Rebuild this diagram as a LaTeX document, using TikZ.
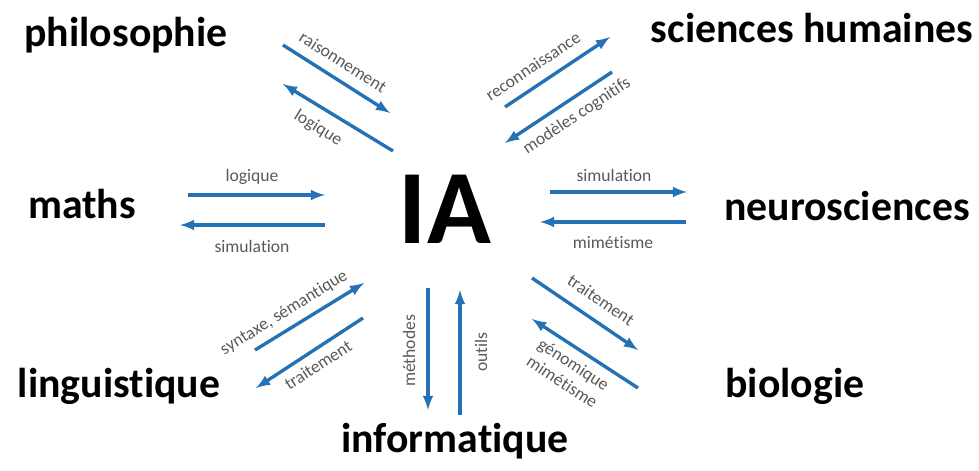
\documentclass[tikz,border=0pt]{standalone}
\usepackage{fontspec}
\setmainfont{Carlito}[Ligatures=NoCommon]
\usetikzlibrary{arrows}
\definecolor{bleu}{RGB}{36,114,181}
\definecolor{gris}{RGB}{89,89,89}

\begin{document}
\begin{tikzpicture}[x=0.025cm,y=-0.025cm]
                      \tikzstyle{domaine}=[font=\bfseries\fontsize{29.7}{32}\selectfont,text=black,inner sep=0pt,anchor=base]
                      \tikzstyle{fleche}=[-latex,draw=bleu,line width=2.4pt]
                      \tikzstyle{lien}=[font=\fontsize{12.5}{15}\selectfont,text=gris,inner sep=0pt]
                      \useasboundingbox (0,0) rectangle (979,470);
                      % centre et domaines
                      \node[font=\bfseries\fontsize{75}{80}\selectfont,inner sep=0pt] (ia) at (445,209) {IA};
                      \node[domaine] (philo) at (126,46) {philosophie};
                      \node[domaine] (sh) at (812,42) {sciences humaines};
                      \node[domaine] (maths) at (82,218) {maths};
                      \node[domaine] (neuro) at (847,220) {neurosciences};
                      \node[domaine] (ling) at (119,397) {linguistique};
                      \node[domaine] (bio) at (795,397) {biologie};
                      \node[domaine] (info) at (455,452) {informatique};
                      % extremites des fleches
                      \coordinate (a1) at (283,45);  \coordinate (a2) at (390,113);
                      \coordinate (b1) at (393,151); \coordinate (b2) at (283,84);
                      \coordinate (c1) at (505,107); \coordinate (c2) at (610,37);
                      \coordinate (d1) at (612,72);  \coordinate (d2) at (505,143);
                      \coordinate (e1) at (188,195); \coordinate (e2) at (325,195);
                      \coordinate (f1) at (325,225); \coordinate (f2) at (180,225);
                      \coordinate (g1) at (550,192); \coordinate (g2) at (687,192);
                      \coordinate (h1) at (686,222); \coordinate (h2) at (540,222);
                      \coordinate (i1) at (255,350); \coordinate (i2) at (364,283);
                      \coordinate (j1) at (363,318); \coordinate (j2) at (256,388);
                      \coordinate (k1) at (428,288); \coordinate (k2) at (428,410);
                      \coordinate (l1) at (460,415); \coordinate (l2) at (460,290);
                      \coordinate (m1) at (532,278); \coordinate (m2) at (638,350);
                      \coordinate (n1) at (638,388); \coordinate (n2) at (532,319);
                      \draw[fleche] (a1) -- (a2);
                      \draw[fleche] (b1) -- (b2);
                      \draw[fleche] (c1) -- (c2);
                      \draw[fleche] (d1) -- (d2);
                      \draw[fleche] (e1) -- (e2);
                      \draw[fleche] (f1) -- (f2);
                      \draw[fleche] (g1) -- (g2);
                      \draw[fleche] (h1) -- (h2);
                      \draw[fleche] (i1) -- (i2);
                      \draw[fleche] (j1) -- (j2);
                      \draw[fleche] (k1) -- (k2);
                      \draw[fleche] (l1) -- (l2);
                      \draw[fleche] (m1) -- (m2);
                      \draw[fleche] (n1) -- (n2);
                      % etiquettes
                      \node[lien,rotate=-32.4] (la) at (343,62) {raisonnement};
                      \node[lien,rotate=-31.3] (lb) at (318,128) {logique};
                      \node[lien,rotate=33.7] (lc) at (533,66) {reconnaissance};
                      \node[lien,rotate=33.5] (ld) at (577,116) {modèles cognitifs};
                      \node[lien] (le) at (252,177) {logique};
                      \node[lien] (lf) at (252,246) {simulation};
                      \node[lien] (lg) at (614,175) {simulation};
                      \node[lien] (lh) at (613,243) {mimétisme};
                      \node[lien,rotate=31.8] (li) at (284,313) {syntaxe, sémantique};
                      \node[lien,rotate=33] (lj) at (318,365) {traitement};
                      \node[lien,rotate=90] (lk) at (409,351) {méthodes};
                      \node[lien,rotate=90] (ll) at (481,352) {outils};
                      \node[lien,rotate=-34] (lm) at (601,300) {traitement};
                      \node[lien,rotate=-33,align=center] (ln) at (568,373) {génomique\\mimétisme};
                  \end{tikzpicture}
\end{document}
